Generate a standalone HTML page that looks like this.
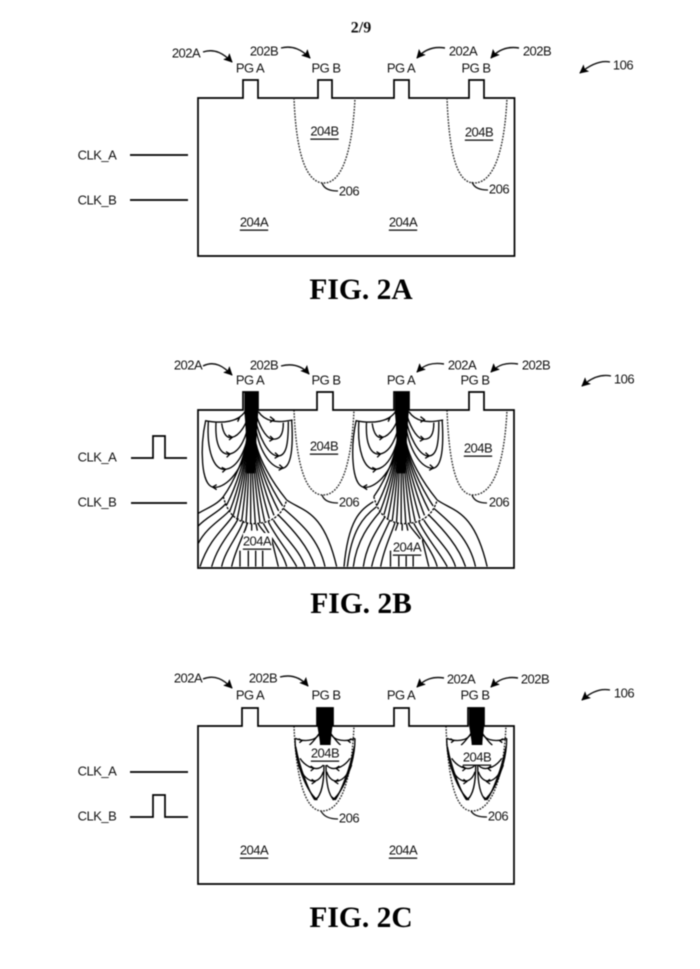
<!DOCTYPE html>
<html><head><meta charset="utf-8"><style>
html,body{margin:0;padding:0;background:#fff}
svg{display:block;filter:blur(.4px)}
text{font-family:"Liberation Sans",sans-serif;font-size:13px;letter-spacing:-.5px;fill:#111;text-anchor:middle;dominant-baseline:central}
.f{font-family:"Liberation Serif",serif;font-weight:bold;font-size:29.500px;letter-spacing:0;fill:#000;dominant-baseline:auto}
.o{fill:none;stroke:#000;stroke-width:1.7}
.a{fill:none;stroke:#111;stroke-width:1.4;marker-end:url(#h)}
.d{fill:none;stroke:#333;stroke-width:1.4;stroke-dasharray:1.8 1.2}
.l{fill:none;stroke:#111;stroke-width:1.3}
.z{fill:none;stroke:#000;stroke-width:4}
</style></head><body>
<svg width="700" height="969" viewBox="0 0 700 969" xmlns="http://www.w3.org/2000/svg">
<defs>
<marker id="h" viewBox="0 0 10 10" refX="9" refY="5" markerWidth="9" markerHeight="9" markerUnits="userSpaceOnUse" orient="auto"><path d="M0 0L10 5L0 10L2 5Z" fill="#000"/></marker>
<g id="fieldB">
<path d="M163 36H205V95C200 150 198 200 196 280L168 280C170 200 168 150 163 95Z" fill="#000"/>
<g class="z">
<path d="M165 95C145 125 100 132 45 122"/>
<path d="M175 190C150 290 100 325 70 322C32 315 30 200 47 122"/>
<path d="M178 150C165 220 140 265 105 268C70 270 50 210 55 125"/>
<path d="M178 120C170 170 150 218 118 222C90 225 75 190 78 128"/>
<path d="M178 100C170 130 150 168 125 172C112 175 100 165 95 130"/>
<path d="M205 95C225 125 260 130 308 120"/>
<path d="M195 130C205 210 240 262 275 265C305 265 310 200 305 120"/>
<path d="M195 110C205 170 235 225 262 228C290 230 295 190 295 125"/>
<path d="M198 100C205 130 225 172 245 177C270 180 280 165 280 128"/>
<path d="M172 150C172 230 125 314 100 350"/>
<path d="M173 150C173 230 132 331 110 375"/>
<path d="M174 150C174 230 139 343 120 392"/>
<path d="M175 150C175 230 146 352 130 405"/>
<path d="M176 150C176 230 154 360 142 415"/>
<path d="M177 150C177 230 163 365 155 423"/>
<path d="M179 150C179 230 172 369 168 428"/>
<path d="M182 150C182 230 182 371 182 431"/>
<path d="M184 150C184 230 192 371 196 431"/>
<path d="M186 150C186 230 202 369 210 429"/>
<path d="M188 150C188 230 211 366 224 424"/>
<path d="M189 150C189 230 221 360 238 416"/>
<path d="M190 150C190 230 231 353 252 406"/>
<path d="M191 150C191 230 241 344 266 393"/>
<path d="M192 150C192 230 249 334 278 378"/>
<path d="M193 150C193 230 258 321 290 360"/>
<path d="M100 350Q120 430 190 431Q270 430 290 360" stroke-dasharray="7 4"/>
<path d="M290 360C340 395 400 390 440 560"/>
<path d="M280 385C320 420 385 470 405 560"/>
<path d="M265 405C310 450 355 500 375 560"/>
<path d="M250 420C280 470 330 510 345 560"/>
<path d="M235 425C255 470 300 520 320 560"/>
<path d="M220 430C240 470 280 520 290 560"/>
<path d="M205 432C215 450 232 465 240 478"/>
<path d="M245 478L265 560"/>
<path d="M150 512V560M175 512V560M197 512V560M218 512V560"/>
<path d="M172 430L165 452M185 432V452M198 432L202 452"/>
<path d="M137 118L148 114L143 125M115 165L127 172L117 180M108 215L120 222L110 232M95 262L107 268L97 277M80 314L68 321L80 329"/>
<path d="M240 110L252 119L240 127M240 168L250 177L238 184M255 218L266 228L254 235M268 254L279 264L266 271"/>
</g></g>
<g id="fieldC">
<path d="M112 22H158V75C155 100 152 120 152 135H120C120 120 115 100 112 75Z" fill="#000"/>
<g class="z">
<path d="M122 90C115 122 80 128 45 115"/>
<path d="M148 90C155 122 190 128 225 115"/>
<path d="M118 100C100 125 95 130 88 135M152 100C170 125 175 130 182 135"/>
<path d="M45 115C45 190 80 275 112 300"/>
<path d="M225 115C225 190 190 275 158 300"/>
<path d="M47 140C60 210 90 280 105 300M223 140C210 210 180 280 165 300"/>
<path d="M132 195C132 250 125 285 106 300"/>
<path d="M138 195C138 250 145 285 162 300"/>
<path d="M60 175C80 205 115 215 130 195"/>
<path d="M210 175C190 205 155 215 140 195"/>
<path d="M55 195C75 250 115 260 130 215"/>
<path d="M215 195C195 250 155 260 140 215"/>
<path d="M92 198L102 205L92 213M178 198L168 205L178 213M95 238L105 245L95 252M175 238L165 245L175 252M100 288L106 298L116 290M170 288L164 298L154 290M56 116L66 122L58 128M214 116L204 122L212 128"/>
</g></g>
</defs>

<text x="361" y="28" style="font-family:'Liberation Serif',serif;font-weight:bold;font-size:16px;letter-spacing:0;fill:#111">2/9</text>

<!-- FIG 2A -->
<path class="o" d="M198 98H243V80H258V98H318V80H332V98H394V80H409V98H469V80H484V98H514.500V256H198Z"/>
<path class="d" d="M294 98C296 150 305 183 324 183C345 183 353 140 355 98"/>
<path class="d" d="M447 98C449 150 456 183 474 183C497 183 505 140 507 98"/>
<path class="l" d="M322 183C324 189 330 191 338 191M472 182C474 188 480 190 488 190"/>
<path class="o" d="M130 155H188M130 200H188"/>
<path class="a" d="M203 52C215 48 224 54 232 62"/>
<path class="a" d="M281 48C293 45 302 50 310 58"/>
<path class="a" d="M445 48C433 46 424 50 417 58"/>
<path class="a" d="M519 48C507 46 498 50 491 58"/>
<path class="a" d="M610 62C600 60 590 65 580 73"/>
<text x="186" y="53">202A</text><text x="264" y="51">202B</text><text x="463" y="51">202A</text><text x="537" y="51">202B</text><text x="623" y="65">106</text>
<text x="250" y="68">PG A</text><text x="326" y="68">PG B</text><text x="401" y="68">PG A</text><text x="476" y="68">PG B</text>
<text x="97" y="155">CLK_A</text><text x="97" y="200">CLK_B</text>
<text x="324.500" y="131" text-decoration="underline">204B</text><text x="479" y="132" text-decoration="underline">204B</text>
<text x="254" y="222" text-decoration="underline">204A</text><text x="403" y="222" text-decoration="underline">204A</text>
<text x="349" y="191">206</text><text x="499" y="189">206</text>
<text class="f" x="361" y="299">FIG. 2A</text>

<!-- FIG 2B -->
<path class="d" d="M294 410C296 462 305 495 323 495C345 495 352 452 354 410"/>
<path class="d" d="M447 410C449 462 456 495 473 495C497 495 505 452 507 410"/>
<use href="#fieldB" transform="translate(190 380) scale(.3333)"/>
<use href="#fieldB" transform="translate(340.500 380) scale(.3333)"/>
<g transform="translate(190 380) scale(.3333)" class="z">
<path d="M100 350C80 375 50 385 25 400"/><path d="M108 370C90 395 50 410 25 438"/><path d="M120 390C100 415 50 440 25 490"/>
<path d="M130 405C110 440 60 470 30 560"/><path d="M145 415C130 450 85 490 65 560"/><path d="M160 422C150 460 105 510 95 560"/><path d="M172 428C165 460 135 510 125 560"/>
</g>
<g transform="translate(340 380) scale(.3333)" class="z">
<path d="M100 365C60 390 25 420 12 560"/><path d="M110 380C70 410 35 450 22 560"/><path d="M120 395C90 430 50 480 40 560"/>
<path d="M135 410C115 445 80 490 70 560"/><path d="M150 420C135 455 105 510 95 560"/><path d="M165 428C155 460 130 510 122 560"/>
</g>
<path class="o" d="M198 410H243V392H258V410H317V392H333V410H394V392H409V410H469V392H484V410H514V568H198Z"/>
<path class="l" d="M322 495C324 501 330 503 338 503M472 495C474 501 480 503 487 503"/>
<path class="o" d="M131 458H153V436H165V458H187M131 503H187"/>
<path class="a" d="M203 366C215 360 224 367 232 375"/>
<path class="a" d="M281 366C293 363 302 366 309 374"/>
<path class="a" d="M444 364C432 362 424 365 417 372"/>
<path class="a" d="M518 364C506 362 498 365 491 372"/>
<path class="a" d="M611 376C601 374 591 378 582 386"/>
<text x="188" y="365">202A</text><text x="264" y="365">202B</text><text x="462" y="365">202A</text><text x="536" y="365">202B</text><text x="624" y="379">106</text>
<text x="250" y="380">PG A</text><text x="326" y="380">PG B</text><text x="401" y="380">PG A</text><text x="475" y="380">PG B</text>
<text x="97" y="457">CLK_A</text><text x="97" y="502">CLK_B</text>
<rect x="243" y="533" width="29" height="17" fill="#fff"/><rect x="393" y="539" width="29" height="17" fill="#fff"/>
<text x="324" y="446" text-decoration="underline">204B</text><text x="478" y="448" text-decoration="underline">204B</text>
<text x="257" y="541" text-decoration="underline">204A</text><text x="407" y="547" text-decoration="underline">204A</text>
<text x="349" y="502">206</text><text x="499" y="502">206</text>
<text class="f" x="361" y="613">FIG. 2B</text>

<!-- FIG 2C -->
<path class="d" d="M294 726C296 778 305 811 322 811C345 811 352 768 354 726"/>
<path class="d" d="M446 726C448 778 455 811 472 811C495 811 504 768 506 726"/>
<use href="#fieldC" transform="translate(280 700) scale(.3333)"/>
<use href="#fieldC" transform="translate(431.700 700) scale(.3333)"/>
<path class="o" d="M198 726H242V708H258V726H317V708H333V726H394V708H409V726H468V708H484V726H514V884H198Z"/>
<path class="l" d="M321 811C324 817 330 819 338 819M471 811C474 816 480 817 487 817"/>
<path class="o" d="M130 772H188M130 817H153V795H165V817H188"/>
<rect x="309" y="745" width="32" height="16" fill="#fff"/><rect x="461" y="749" width="32" height="16" fill="#fff"/>
<path class="a" d="M203 679C215 674 224 680 232 688"/>
<path class="a" d="M280 677C292 674 301 678 308 686"/>
<path class="a" d="M444 678C432 676 424 680 417 687"/>
<path class="a" d="M518 678C506 676 498 680 491 687"/>
<path class="a" d="M610 690C600 688 591 692 582 700"/>
<text x="188" y="678">202A</text><text x="263" y="678">202B</text><text x="461" y="679">202A</text><text x="535" y="679">202B</text><text x="624" y="693">106</text>
<text x="250" y="695">PG A</text><text x="326" y="695">PG B</text><text x="401" y="695">PG A</text><text x="475" y="695">PG B</text>
<text x="97" y="771">CLK_A</text><text x="97" y="816">CLK_B</text>
<text x="325" y="753" text-decoration="underline">204B</text><text x="477" y="757" text-decoration="underline">204B</text>
<text x="254" y="850" text-decoration="underline">204A</text><text x="403" y="850" text-decoration="underline">204A</text>
<text x="349" y="818">206</text><text x="498" y="816">206</text>
<text class="f" x="361" y="927">FIG. 2C</text>
</svg>
</body></html>
